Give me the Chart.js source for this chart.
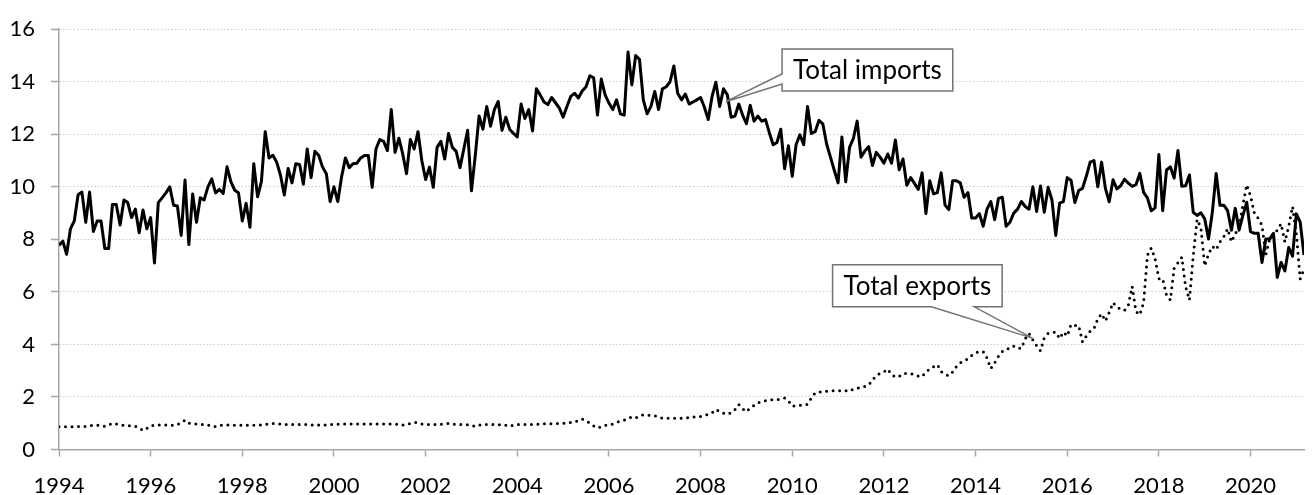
<!DOCTYPE html>
<html>
<head>
<meta charset="utf-8">
<script src="https://cdn.jsdelivr.net/npm/chart.js@4.4.1/dist/chart.umd.min.js"></script>
<style>
  html, body { margin: 0; padding: 0; background: #fff; }
  canvas { display: block; }
</style>
</head>
<body>
<canvas id="trade-chart" width="1316" height="495"></canvas>
<script>
// monthly series, first value = January 1994
var startYear = 1994;

var importsVals = [
  7.78, 7.93, 7.43, 8.4, 8.7, 9.7, 9.8, 8.65, 9.8, 8.3, 8.7, 8.7,
  7.65, 7.65, 9.33, 9.33, 8.55, 9.5, 9.4, 8.83, 9.15, 8.25, 9.12, 8.4,
  8.83, 7.1, 9.4, 9.58, 9.77, 10.0, 9.3, 9.27, 8.15, 10.26, 7.8, 9.73,
  8.65, 9.58, 9.5, 10.0, 10.3, 9.77, 9.9, 9.75, 10.76, 10.2, 9.87, 9.77,
  8.7, 9.37, 8.46, 10.88, 9.62, 10.2, 12.1, 11.1, 11.2, 10.94, 10.44, 9.69,
  10.7, 10.15, 10.88, 10.85, 10.1, 11.44, 10.35, 11.35, 11.2, 10.75, 10.5, 9.44,
  10.0, 9.44, 10.38, 11.1, 10.73, 10.88, 10.9, 11.1, 11.19, 11.19, 9.98, 11.44,
  11.8, 11.73, 11.38, 12.94, 11.31, 11.85, 11.25, 10.5, 11.8, 11.44, 12.1, 11.0,
  10.28, 10.75, 9.98, 11.5, 11.73, 11.06, 12.03, 11.5, 11.35, 10.73, 11.44, 12.15,
  9.85, 11.19, 12.7, 12.19, 13.06, 12.31, 12.94, 13.25, 12.15, 12.65, 12.19, 12.03,
  11.9, 13.15, 12.6, 12.94, 12.13, 13.73, 13.5, 13.23, 13.13, 13.4, 13.2, 13.0,
  12.65, 13.06, 13.44, 13.56, 13.38, 13.65, 13.81, 14.23, 14.15, 12.73, 14.1, 13.5,
  13.19, 12.94, 13.31, 12.78, 12.73, 15.13, 13.88, 15.0, 14.85, 13.31, 12.78, 13.06,
  13.63, 12.94, 13.73, 13.81, 14.0, 14.6, 13.56, 13.31, 13.53, 13.15, 13.23, 13.31,
  13.4, 13.03, 12.56, 13.44, 13.98, 13.06, 13.73, 13.5, 12.65, 12.69, 13.15, 12.73,
  12.4, 13.1, 12.5, 12.69, 12.5, 12.56, 12.06, 11.6, 11.69, 12.19, 10.69, 11.56,
  10.4, 11.6, 11.98, 11.6, 13.06, 12.03, 12.1, 12.53, 12.4, 11.63, 11.13, 10.63,
  10.15, 11.9, 10.19, 11.5, 11.84, 12.5, 11.13, 11.36, 11.53, 10.81, 11.31, 11.13,
  10.9, 11.25, 10.9, 11.78, 10.65, 11.06, 10.06, 10.35, 10.13, 9.9, 10.53, 8.98,
  10.23, 9.73, 9.78, 10.53, 9.31, 9.13, 10.23, 10.23, 10.15, 9.6, 9.78, 8.81,
  8.81, 8.98, 8.5, 9.15, 9.44, 8.75, 9.56, 9.6, 8.5, 8.65, 9.0, 9.15,
  9.44, 9.25, 9.15, 10.0, 9.06, 10.03, 9.03, 9.98, 9.5, 8.15, 9.38, 9.44,
  10.35, 10.25, 9.4, 9.86, 9.94, 10.4, 10.94, 11.0, 10.0, 10.94, 9.94, 9.43,
  10.27, 9.92, 10.04, 10.29, 10.14, 10.02, 10.08, 10.51, 9.79, 9.58, 9.09, 9.2,
  11.23, 9.09, 10.64, 10.76, 10.33, 11.38, 10.02, 10.04, 10.45, 9.03, 8.91, 9.01,
  8.78, 8.01, 9.03, 10.51, 9.3, 9.3, 9.09, 8.35, 9.18, 8.35, 8.91, 9.41,
  8.29, 8.23, 8.23, 7.12, 8.01, 8.01, 8.23, 6.55, 7.12, 6.8, 7.69, 7.36,
  8.97, 8.66, 7.4
];

var exportsVals = [
  0.87, 0.87, 0.87, 0.87, 0.87, 0.88, 0.88, 0.88, 0.9, 0.92, 0.93, 0.9,
  0.88, 0.92, 1.0, 0.97, 0.94, 0.92, 0.9, 0.9, 0.88, 0.82, 0.72, 0.8,
  0.9, 0.93, 0.93, 0.93, 0.93, 0.92, 0.93, 0.95, 1.02, 1.12, 1.0, 0.98,
  0.97, 0.96, 0.95, 0.93, 0.9, 0.87, 0.92, 0.93, 0.93, 0.93, 0.92, 0.92,
  0.92, 0.92, 0.92, 0.92, 0.93, 0.93, 0.95, 0.97, 0.99, 0.98, 0.97, 0.96,
  0.95, 0.95, 0.95, 0.95, 0.95, 0.96, 0.94, 0.93, 0.93, 0.93, 0.94, 0.95,
  0.96, 0.96, 0.96, 0.97, 0.97, 0.97, 0.97, 0.97, 0.97, 0.97, 0.97, 0.97,
  0.97, 0.97, 0.97, 0.97, 0.97, 0.96, 0.93, 0.95, 0.99, 1.03, 1.02, 0.97,
  0.95, 0.95, 0.95, 0.95, 0.96, 0.97, 0.99, 0.97, 0.95, 0.95, 0.95, 0.94,
  0.92, 0.88, 0.93, 0.95, 0.95, 0.95, 0.95, 0.95, 0.94, 0.92, 0.88, 0.93,
  0.95, 0.95, 0.95, 0.95, 0.95, 0.96, 0.97, 0.98, 0.98, 0.98, 0.98, 0.99,
  1.0, 1.01, 1.03, 1.04, 1.1, 1.16, 1.09, 1.0, 0.9, 0.82, 0.86, 0.92,
  0.94, 0.97, 1.03, 1.08, 1.12, 1.18, 1.24, 1.2, 1.28, 1.32, 1.3, 1.3,
  1.28, 1.24, 1.19, 1.19, 1.19, 1.19, 1.19, 1.19, 1.2, 1.22, 1.24, 1.24,
  1.26, 1.3, 1.34, 1.4, 1.53, 1.45, 1.38, 1.34, 1.4, 1.52, 1.71, 1.55,
  1.44, 1.59, 1.68, 1.78, 1.82, 1.86, 1.88, 1.9, 1.9, 1.92, 1.96, 1.85,
  1.65, 1.66, 1.68, 1.7, 1.72, 1.96, 2.15, 2.18, 2.2, 2.22, 2.23, 2.24,
  2.24, 2.22, 2.24, 2.22, 2.3, 2.33, 2.38, 2.4, 2.45, 2.65, 2.8, 2.9,
  2.95, 3.06, 2.86, 2.75, 2.78, 2.88, 2.9, 2.88, 2.86, 2.8, 2.77, 2.96,
  3.05, 3.15, 3.23, 2.96, 2.86, 2.81, 2.95, 3.16, 3.3, 3.38, 3.45, 3.58,
  3.68, 3.72, 3.73, 3.48, 3.08, 3.3, 3.55, 3.73, 3.76, 3.9, 3.93, 3.85,
  3.85, 4.22, 4.42, 4.17, 3.95, 3.76, 4.26, 4.42, 4.45, 4.47, 4.22, 4.47,
  4.32, 4.76, 4.72, 4.72, 4.1, 4.32, 4.5, 4.6, 4.97, 5.17, 4.89, 5.22,
  5.59, 5.42, 5.35, 5.29, 5.5, 6.21, 5.26, 5.13, 5.59, 7.4, 7.67, 7.27,
  6.5, 6.5, 5.87, 5.69, 6.9, 7.11, 7.32, 6.2, 5.69, 7.37, 8.76, 8.44,
  6.99, 7.44, 7.73, 7.6, 7.9, 8.1, 8.41, 7.91, 8.2, 8.49, 9.3, 10.08,
  9.65, 9.0, 8.8, 8.53, 7.42, 8.0, 8.2, 8.35, 8.6, 7.9, 8.5, 9.25,
  8.2, 6.49, 6.86
];

var yTicks = { min: 0, max: 16, step: 2 };
var xTicks = { min: 1994, step: 2 };

// callout labels: tip = point on the series, box = centre of the label box (x in years, y in value)
var callouts = [
  { text: "Total imports", tip: [2008.55, 13.24], box: [2011.64, 14.45], side: "left", wedge: [4, 14] },
  { text: "Total exports", tip: [2015.24, 4.24], box: [2012.73, 6.23], side: "bottom", wedge: [14, 57] }
];

// month index -> decimal year
function toPoints(vals) {
  return vals.map(function (v, i) {
    return { x: startYear + i / 12, y: v };
  });
}

var FONT = "Lato";

var calloutPlugin = {
  id: "callouts",
  afterDatasetsDraw: function (chart) {
    var ctx = chart.ctx;
    var xs = chart.scales.x, ys = chart.scales.y;
    ctx.save();
    ctx.font = "26px " + FONT;
    callouts.forEach(function (c) {
      var tx = xs.getPixelForValue(c.tip[0]), ty = ys.getPixelForValue(c.tip[1]);
      var cx = xs.getPixelForValue(c.box[0]), cy = ys.getPixelForValue(c.box[1]);
      var w = ctx.measureText(c.text).width + 22, h = 42;
      var l = cx - w / 2, r = cx + w / 2, t = cy - h / 2, b = cy + h / 2;
      ctx.beginPath();
      ctx.moveTo(l, t);
      ctx.lineTo(r, t);
      ctx.lineTo(r, b);
      if (c.side === "bottom") {
        ctx.lineTo(cx + c.wedge[1], b);
        ctx.lineTo(tx, ty);
        ctx.lineTo(cx + c.wedge[0], b);
        ctx.lineTo(l, b);
      } else {
        ctx.lineTo(l, b);
        ctx.lineTo(l, cy + c.wedge[1]);
        ctx.lineTo(tx, ty);
        ctx.lineTo(l, cy + c.wedge[0]);
      }
      ctx.closePath();
      ctx.fillStyle = "#ffffff";
      ctx.fill();
      ctx.lineWidth = 1.5;
      ctx.strokeStyle = "#737373";
      ctx.lineJoin = "miter";
      ctx.stroke();
      ctx.fillStyle = "#000000";
      ctx.textAlign = "center";
      ctx.textBaseline = "middle";
      ctx.fillText(c.text, cx, cy + 1);
    });
    ctx.restore();
  }
};

var chart = new Chart(document.getElementById("trade-chart").getContext("2d"), {
  type: "line",
  data: {
    datasets: [
      {
        label: "Total imports",
        data: toPoints(importsVals),
        borderColor: "#000000",
        borderWidth: 3,
        borderJoinStyle: "round",
        pointRadius: 0,
        tension: 0,
        fill: false
      },
      {
        label: "Total exports",
        data: toPoints(exportsVals),
        borderColor: "#000000",
        borderWidth: 3,
        borderDash: [0, 6.5],
        borderCapStyle: "round",
        pointRadius: 0,
        tension: 0,
        fill: false
      }
    ]
  },
  options: {
    responsive: false,
    animation: false,
    layout: { padding: { left: 0, right: 12, top: 20, bottom: 0 } },
    plugins: {
      legend: { display: false },
      tooltip: { enabled: false }
    },
    scales: {
      x: {
        type: "linear",
        min: xTicks.min,
        max: startYear + (importsVals.length - 1) / 12,
        afterFit: function (scale) { scale.height = 45.5; },
        grid: {
          drawOnChartArea: false,
          drawTicks: true,
          tickLength: 7,
          tickColor: "#a6a6a6",
          tickWidth: 1.5
        },
        border: { display: true, color: "#a6a6a6", width: 1.5 },
        ticks: {
          stepSize: xTicks.step,
          includeBounds: false,
          autoSkip: false,
          maxRotation: 0,
          padding: 16,
          color: "#000000",
          font: { family: FONT, size: 22 },
          callback: function (v) { return String(v); }
        }
      },
      y: {
        min: yTicks.min,
        max: yTicks.max,
        afterFit: function (scale) { scale.width = 59; },
        grid: {
          color: "#cccccc",
          lineWidth: 1,
          drawTicks: true,
          tickLength: 8,
          tickColor: "#a6a6a6",
          tickWidth: 1.5,
          tickBorderDash: []
        },
        border: { display: true, color: "#a6a6a6", width: 1.5, dash: [1.5, 2] },
        ticks: {
          stepSize: yTicks.step,
          padding: 16,
          color: "#000000",
          font: { family: FONT, size: 22 }
        }
      }
    }
  },
  plugins: [calloutPlugin]
});
</script>
</body>
</html>
